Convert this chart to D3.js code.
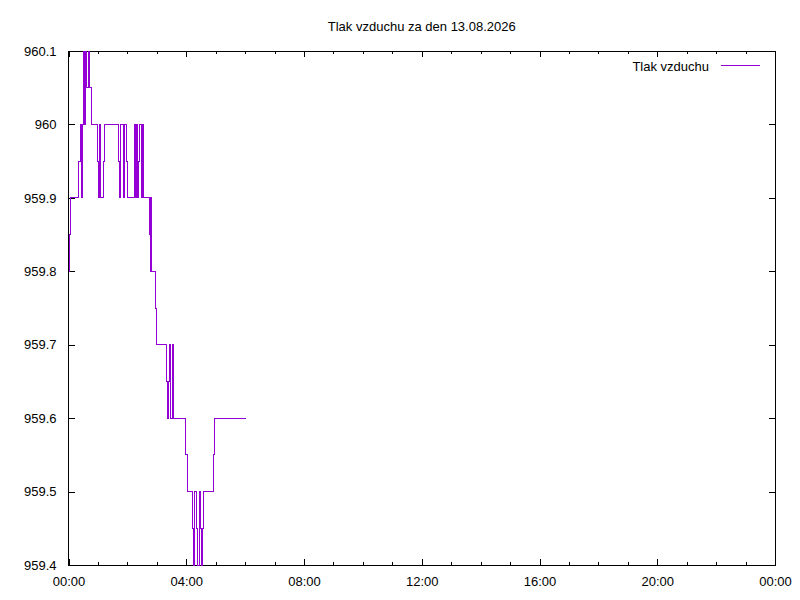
<!DOCTYPE html>
<html>
<head>
<meta charset="utf-8">
<script src="https://cdn.jsdelivr.net/npm/d3@7"></script>
<style>
  html, body { margin: 0; padding: 0; background: #fff; }
  svg { display: block; font-family: "Liberation Sans", Arial, sans-serif; }
</style>
</head>
<body>
<svg id="chart" width="800" height="600"></svg>
<script>
// ---- data (minutes after midnight, pressure hPa) ----
const title = "Tlak vzduchu za den 13.08.2026";
const seriesName = "Tlak vzduchu";
const minutes = [1, 2, 4, 20, 24, 27, 29, 30, 31, 32, 33, 34, 35, 37, 40, 43, 46,
  60, 62, 64, 65, 72, 74, 102, 103, 106, 112, 115, 119, 121, 134, 136, 139, 141, 143, 145,
  149, 151, 153, 166, 167, 168, 170, 177, 179, 200, 201, 204, 205, 207, 208, 211, 212, 213, 214,
  238, 242, 252, 255, 257, 261, 263, 266, 269, 271, 273, 275, 296, 298, 361];
const pressure = [959.80, 959.85, 959.90, 959.95, 960.00, 959.90, 960.00, 960.05, 960.10, 960.05,
  960.00, 960.05, 960.10, 960.05, 960.10, 960.05, 960.00,
  959.95, 959.90, 960.00, 959.90, 959.95, 960.00, 959.95, 959.90, 960.00, 959.90, 960.00, 959.95,
  959.90, 960.00, 959.90, 960.00, 959.90, 959.95, 960.00,
  959.90, 960.00, 959.90, 959.85, 959.80, 959.90, 959.80, 959.75, 959.70, 959.65, 959.60, 959.65,
  959.70, 959.65, 959.60, 959.65, 959.70, 959.65, 959.60,
  959.55, 959.50, 959.45, 959.40, 959.50, 959.45, 959.40, 959.50, 959.45, 959.40, 959.45, 959.50,
  959.55, 959.60, 959.60];
const xTickValues = [0, 240, 480, 720, 960, 1200, 1440];
const xTickLabels = ["00:00", "04:00", "08:00", "12:00", "16:00", "20:00", "00:00"];
const xMinorValues = d3.range(0, 1441, 60);
const yTickValues = [959.4, 959.5, 959.6, 959.7, 959.8, 959.9, 960.0, 960.1];
const yTickLabels = ["959.4", "959.5", "959.6", "959.7", "959.8", "959.9", "960", "960.1"];

// ---- layout ----
const L = 68.5, R = 775, T = 51, B = 565;
const color = "#9400d3";
const FONT = "13px";
const svg = d3.select("#chart");

const x = d3.scaleLinear().domain([0, 1440]).range([L, R]);
const y = d3.scaleLinear().domain([959.4, 960.1]).range([B, T]);

// clip
svg.append("defs").append("clipPath").attr("id", "clip")
  .append("rect").attr("x", L - 1).attr("y", T - 1).attr("width", R - L + 2).attr("height", B - T + 2);

// axes with inward ticks
function styleAxis(g) {
  g.select(".domain").remove();
  g.selectAll("line").attr("stroke", "#000").attr("shape-rendering", "crispEdges");
  g.selectAll("text").attr("fill", "#000").style("font-size", FONT)
    .style("font-family", '"Liberation Sans", Arial, sans-serif');
}
const fmtX = (d) => xTickLabels[xTickValues.indexOf(d)];
const fmtY = (d) => yTickLabels[yTickValues.findIndex(v => Math.abs(v - d) < 1e-9)];

svg.append("g").attr("transform", `translate(0,${B})`)
  .call(d3.axisBottom(x).tickValues(xMinorValues).tickSize(-3).tickFormat(""))
  .call(styleAxis);
svg.append("g").attr("transform", `translate(0,${T})`)
  .call(d3.axisTop(x).tickValues(xMinorValues).tickSize(-3).tickFormat(""))
  .call(styleAxis);
svg.append("g").attr("transform", `translate(0,${B})`)
  .call(d3.axisBottom(x).tickValues(xTickValues).tickSize(-6).tickPadding(12).tickFormat(fmtX))
  .call(styleAxis);
svg.append("g").attr("transform", `translate(0,${T})`)
  .call(d3.axisTop(x).tickValues(xTickValues).tickSize(-6).tickFormat(""))
  .call(styleAxis);
svg.append("g").attr("transform", `translate(${L},0)`)
  .call(d3.axisLeft(y).tickValues(yTickValues).tickSize(-6).tickPadding(12).tickFormat(fmtY))
  .call(styleAxis);
svg.append("g").attr("transform", `translate(${R},0)`)
  .call(d3.axisRight(y).tickValues(yTickValues).tickSize(-6).tickFormat(""))
  .call(styleAxis);

// border
svg.append("rect").attr("x", L).attr("y", T).attr("width", R - L).attr("height", B - T)
  .attr("fill", "none").attr("stroke", "#000").attr("stroke-width", 1)
  .attr("shape-rendering", "crispEdges");

// series (snapped to pixel centres for a crisp 1px line)
const data = minutes.map((m, i) => ({ m, v: pressure[i] }));
const snap = (p) => Math.round(p - 0.5) + 0.5;
const line = d3.line().x(d => snap(x(d.m))).y(d => snap(y(d.v))).curve(d3.curveStepAfter);
svg.append("path").datum(data)
  .attr("clip-path", "url(#clip)")
  .attr("d", line)
  .attr("fill", "none").attr("stroke", color).attr("stroke-width", 1)
  .attr("shape-rendering", "crispEdges");

// title
svg.append("text").attr("x", (L + R) / 2).attr("y", 31)
  .attr("text-anchor", "middle").style("font-size", FONT).text(title);

// legend
svg.append("text").attr("x", 709).attr("y", 70.5)
  .attr("text-anchor", "end").style("font-size", FONT).text(seriesName);
svg.append("line").attr("x1", 721).attr("x2", 760).attr("y1", 65.5).attr("y2", 65.5)
  .attr("stroke", color).attr("stroke-width", 1).attr("shape-rendering", "crispEdges");
</script>
</body>
</html>
